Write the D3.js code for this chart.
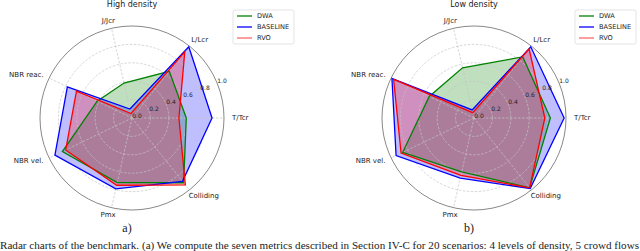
<!DOCTYPE html>
<html>
<head>
<meta charset="utf-8">
<script src="https://cdn.jsdelivr.net/npm/d3@7"></script>
<style>
  body { margin: 0; background: #fff; }
  svg { display: block; }
  text { font-family: 'DejaVu Sans', sans-serif; fill: #222; }
</style>
</head>
<body>
<svg id="chart" width="640" height="251"></svg>
<script>
// DATA
const axesNames = ['T/Tcr', 'L/Lcr', 'J/Jcr', 'NBR reac.', 'NBR vel.', 'Pmx', 'Colliding'];
const seriesNames = ['DWA', 'BASELINE', 'RVO'];
const seriesColors = ['#008000', '#0000ff', '#ff0000'];
const rTicks = [0, 0.2, 0.4, 0.6, 0.8, 1.0];

const highDWA = [0.59, 0.65, 0.39, 0.42, 0.84, 0.72, 0.90];
const highBaseline = [0.87, 0.99, 0.10, 0.78, 0.93, 0.79, 0.88];
const highRVO = [0.51, 0.92, 0.05, 0.67, 0.80, 0.75, 0.93];

const lowDWA = [0.83, 0.85, 0.56, 0.54, 0.86, 0.60, 0.97];
const lowBaseline = [0.98, 0.99, 0.09, 0.99, 0.94, 0.67, 0.98];
const lowRVO = [0.77, 0.96, 0.06, 0.97, 0.88, 0.64, 0.97];

const panelTitles = ['High density', 'Low density'];
const panelTags = ['a)', 'b)'];
const caption = 'Radar charts of the benchmark. (a) We compute the seven metrics described in Section IV-C for 20 scenarios: 4 levels of density, 5 crowd flows';

// SETUP
const svg = d3.select('#chart');
const R = 92;
const panels = [
  { cx: 132, cy: 118, title: panelTitles[0], tag: panelTags[0], values: [highDWA, highBaseline, highRVO] },
  { cx: 474, cy: 118, title: panelTitles[1], tag: panelTags[1], values: [lowDWA, lowBaseline, lowRVO] }
];

const r = d3.scaleLinear().domain([0, 1]).range([0, R]);
// math angle, counter-clockwise from the right
const theta = d3.scaleLinear().domain([0, axesNames.length]).range([0, 2 * Math.PI]);
// d3 radial angle is clockwise from 12 o'clock
const radial = i => Math.PI / 2 - theta(i);

const line = d3.lineRadial()
  .angle((d, i) => radial(i))
  .radius(d => r(d))
  .curve(d3.curveLinearClosed);

panels.forEach(function (p) {
  const g = svg.append('g').attr('transform', 'translate(' + p.cx + ',' + p.cy + ')');

  // FILLS
  p.values.forEach(function (vals, si) {
    g.append('path')
      .attr('d', line(vals))
      .attr('fill', seriesColors[si])
      .attr('fill-opacity', 0.25)
      .attr('stroke', 'none');
  });

  // GRID
  g.selectAll('.ring')
    .data(rTicks.filter(t => t > 0 && t < 1))
    .join('circle')
    .attr('class', 'ring')
    .attr('r', d => r(d))
    .attr('fill', 'none')
    .attr('stroke', '#c4c4c4')
    .attr('stroke-width', 0.7)
    .attr('stroke-dasharray', '2.5,1.5');

  g.selectAll('.spoke')
    .data(axesNames)
    .join('line')
    .attr('class', 'spoke')
    .attr('x1', 0).attr('y1', 0)
    .attr('x2', (d, i) => r(1) * Math.cos(theta(i)))
    .attr('y2', (d, i) => -r(1) * Math.sin(theta(i)))
    .attr('stroke', '#c4c4c4')
    .attr('stroke-width', 0.7)
    .attr('stroke-dasharray', '2.5,1.5');

  // LINES
  p.values.forEach(function (vals, si) {
    g.append('path')
      .attr('d', line(vals))
      .attr('fill', 'none')
      .attr('stroke', seriesColors[si])
      .attr('stroke-width', 1.3)
      .attr('stroke-linejoin', 'miter');
  });

  // OUTER SPINE
  g.append('circle')
    .attr('r', r(1))
    .attr('fill', 'none')
    .attr('stroke', '#555')
    .attr('stroke-width', 0.7);

  // RADIAL TICK LABELS
  const rlAng = Math.PI / 8;
  g.selectAll('.rlabel')
    .data(rTicks)
    .join('text')
    .attr('class', 'rlabel')
    .attr('x', d => (r(d) + 5.5) * Math.cos(rlAng))
    .attr('y', d => -(r(d) + 5.5) * Math.sin(rlAng))
    .attr('text-anchor', 'middle')
    .attr('dominant-baseline', 'central')
    .style('font-size', '6px')
    .text(d => d3.format('.1f')(d));

  // AXIS LABELS
  g.selectAll('.alabel')
    .data(axesNames)
    .join('text')
    .attr('class', 'alabel')
    .attr('text-anchor', 'middle')
    .attr('dominant-baseline', 'central')
    .style('font-size', '7px')
    .text(d => d)
    .each(function (d, i) {
      const a = theta(i), rr = r(1) + 8;
      const w = this.getComputedTextLength();
      d3.select(this)
        .attr('x', rr * Math.cos(a) + Math.cos(a) * w / 2)
        .attr('y', -rr * Math.sin(a));
    });

  // TITLE
  svg.append('text')
    .attr('x', p.cx)
    .attr('y', 7)
    .attr('text-anchor', 'middle')
    .style('font-size', '8px')
    .text(p.title);

  // LEGEND
  const lg = svg.append('g').attr('transform', 'translate(' + (p.cx + 101) + ',10)');
  lg.append('rect')
    .attr('width', 61).attr('height', 34)
    .attr('rx', 2)
    .attr('fill', '#fff')
    .attr('fill-opacity', 0.8)
    .attr('stroke', '#d8d8d8')
    .attr('stroke-width', 0.7);
  const items = lg.selectAll('.item')
    .data(seriesNames)
    .join('g')
    .attr('class', 'item')
    .attr('transform', (d, i) => 'translate(0,' + (6 + i * 11) + ')');
  items.append('line')
    .attr('x1', 4).attr('x2', 19)
    .attr('stroke', (d, i) => seriesColors[i])
    .attr('stroke-opacity', (d, i) => i === 2 ? 0.6 : 1)
    .attr('stroke-width', 1.3);
  items.append('text')
    .attr('x', 24)
    .attr('dominant-baseline', 'central')
    .style('font-size', '6.6px')
    .text(d => d);

  // PANEL TAG
  svg.append('text')
    .attr('x', p.cx - 5)
    .attr('y', 232)
    .attr('text-anchor', 'middle')
    .style('font-family', "'Liberation Serif', serif")
    .style('font-size', '12px')
    .text(p.tag);
});

// CAPTION
svg.append('text')
  .attr('x', 0)
  .attr('y', 248.5)
  .attr('textLength', 639)
  .attr('lengthAdjust', 'spacingAndGlyphs')
  .style('font-family', "'Liberation Serif', serif")
  .style('font-size', '10.5px')
  .text(caption);
</script>
</body>
</html>
